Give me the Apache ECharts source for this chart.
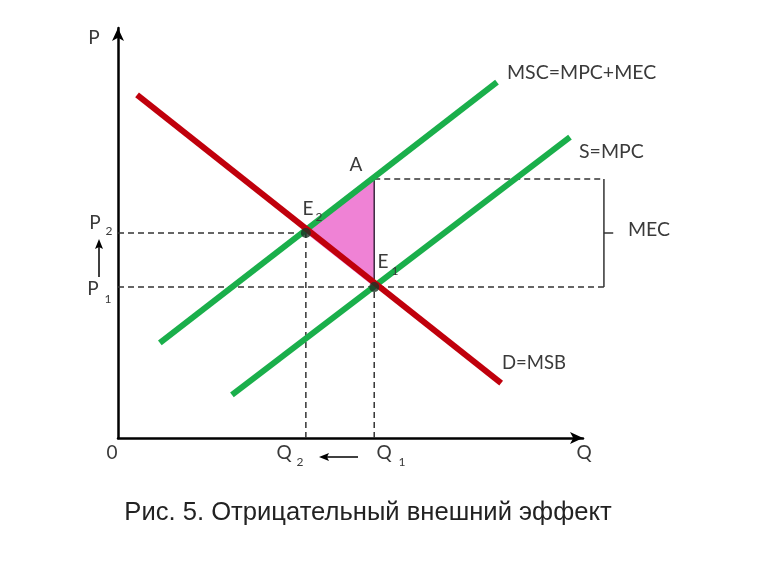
<!DOCTYPE html>
<html>
<head>
<meta charset="utf-8">
<script src="https://cdn.jsdelivr.net/npm/echarts@6/dist/echarts.min.js"></script>
<style>html,body{margin:0;padding:0;background:#fff}#c{width:768px;height:576px}</style>
</head>
<body>
<div id="c"></div>
<script>
// Curves (axis units 0..100)
const demandLine = [[4.1, 83.7], [82.4, 13.4]];   // D=MSB
const mscLine = [[9.0, 23.2], [81.5, 86.8]];      // MSC=MPC+MEC
const supplyLine = [[24.5, 10.5], [97.2, 73.4]];  // S=MPC
// Key points
const pointE2 = [40.4, 50.0];
const pointE1 = [55.1, 36.8];
const pointA = [55.1, 63.2];
const bracketX = 104.5;
// Text
const curveLabels = ['MSC=MPC+MEC', 'S=MPC', 'D=MSB', 'MEC'];
const titleText = 'Рис. 5. Отрицательный внешний эффект';

const chart = echarts.init(document.getElementById('c'));
const font = 'Lato, "Open Sans", sans-serif';
const txtColor = '#3a3a3a';
const midY = (pointE1[1] + pointA[1]) / 2;

function seg(p, q, color, z) {
  return {type: 'line', data: [p, q], symbol: 'none', silent: true,
          lineStyle: {color: color, width: 6}, z: z, animation: false};
}
function segGroup(rows, style, z) {
  return {type: 'custom', z: z, silent: true, clip: false, data: rows,
    renderItem: function (params, api) {
      const a = api.coord([api.value(0), api.value(1)]);
      const b = api.coord([api.value(2), api.value(3)]);
      return {type: 'line', shape: {x1: a[0], y1: a[1], x2: b[0], y2: b[1]},
              style: Object.assign({fill: null}, style)};
    }};
}
const dashedRows = [
  [0, pointE2[1], pointE2[0], pointE2[1]],
  [pointE2[0], 0, pointE2[0], pointE2[1]],
  [0, pointE1[1], bracketX, pointE1[1]],
  [pointE1[0], 0, pointE1[0], pointE1[1]],
  [pointA[0], pointA[1], bracketX, pointA[1]]
];
const bracketRows = [
  [bracketX, pointE1[1], bracketX, pointA[1]],
  [bracketX, midY, bracketX + 2, midY]
];
const verticalRows = [[pointE1[0], pointE1[1], pointA[0], pointA[1]]];

function txt(t, x, y, size, opts) {
  return Object.assign({type: 'text', x: x, y: y, z: 100, silent: true,
    style: {text: t, font: (size || 19) + 'px ' + font, fill: txtColor,
            textAlign: 'center', textVerticalAlign: 'middle'}}, opts || {});
}
function txtL(t, x, y, size) {
  const o = txt(t, x, y, size);
  o.style.textAlign = 'left';
  return o;
}

chart.setOption({
  animation: false,
  grid: {left: 118, right: 185, top: 28, bottom: 138},
  xAxis: {type: 'value', min: 0, max: 100,
    axisLine: {show: true, symbol: ['none', 'arrow'], symbolSize: [9, 13], lineStyle: {color: '#000', width: 2.5}},
    axisTick: {show: false}, axisLabel: {show: false}, splitLine: {show: false}},
  yAxis: {type: 'value', min: 0, max: 100,
    axisLine: {show: true, symbol: ['none', 'arrow'], symbolSize: [9, 13], lineStyle: {color: '#000', width: 2.5}},
    axisTick: {show: false}, axisLabel: {show: false}, splitLine: {show: false}},
  series: [
    {type: 'custom', z: 1, silent: true, clip: false,
     data: [[pointE2[0], pointE2[1], pointA[0], pointA[1], pointE1[0], pointE1[1]]],
     renderItem: function (params, api) {
       const p1 = api.coord([api.value(0), api.value(1)]);
       const p2 = api.coord([api.value(2), api.value(3)]);
       const p3 = api.coord([api.value(4), api.value(5)]);
       return {type: 'polygon', shape: {points: [p1, p2, p3]}, style: {fill: '#ef82d5'}};
     }},
    segGroup(dashedRows, {stroke: '#333', lineWidth: 1.5, lineDash: [6, 4]}, 2),
    segGroup(bracketRows, {stroke: '#333', lineWidth: 1.5}, 2),
    segGroup(verticalRows, {stroke: '#3a2a40', lineWidth: 1.5}, 2),
    seg(mscLine[0], mscLine[1], '#1aaf4b', 3),
    seg(supplyLine[0], supplyLine[1], '#1aaf4b', 3),
    seg(demandLine[0], demandLine[1], '#c0000c', 4),
    {type: 'scatter', z: 6, silent: true, data: [pointE2, pointE1], symbolSize: 10,
     itemStyle: {color: '#1d3326'}}
  ],
  graphic: [
    txt('P', 94, 38),
    txt('0', 112, 453),
    txt('Q', 584, 453),
    txt('Q', 284, 453), txt('2', 300, 462, 12),
    txt('Q', 384, 453), txt('1', 402, 462, 12),
    txt('P', 95, 223), txt('2', 109, 231, 12),
    txt('P', 93, 289), txt('1', 108, 299, 12),
    txt('A', 356, 165),
    txt('E', 308, 209), txt('2', 319, 217, 12),
    txt('E', 383, 262), txt('1', 395, 271, 12),
    txtL(curveLabels[0], 507, 73, 19.5),
    txtL(curveLabels[1], 579, 152, 19.5),
    txtL(curveLabels[2], 502, 363, 18.5),
    txtL(curveLabels[3], 628, 230, 19.5),
    {type: 'line', silent: true, shape: {x1: 358, y1: 457, x2: 326, y2: 457}, style: {stroke: '#000', lineWidth: 1.5}},
    {type: 'polygon', silent: true, shape: {points: [[319, 457], [329, 453], [327, 457], [329, 461]]}, style: {fill: '#000'}},
    {type: 'line', silent: true, shape: {x1: 99, y1: 277, x2: 99, y2: 246}, style: {stroke: '#000', lineWidth: 1.5}},
    {type: 'polygon', silent: true, shape: {points: [[99, 239], [95, 249], [99, 247], [103, 249]]}, style: {fill: '#000'}},
    {type: 'text', x: 368, y: 513, silent: true,
     style: {text: titleText, font: '25.6px "Liberation Sans", Arial, sans-serif', fill: '#222',
             textAlign: 'center', textVerticalAlign: 'middle'}}
  ]
});
</script>
</body>
</html>
